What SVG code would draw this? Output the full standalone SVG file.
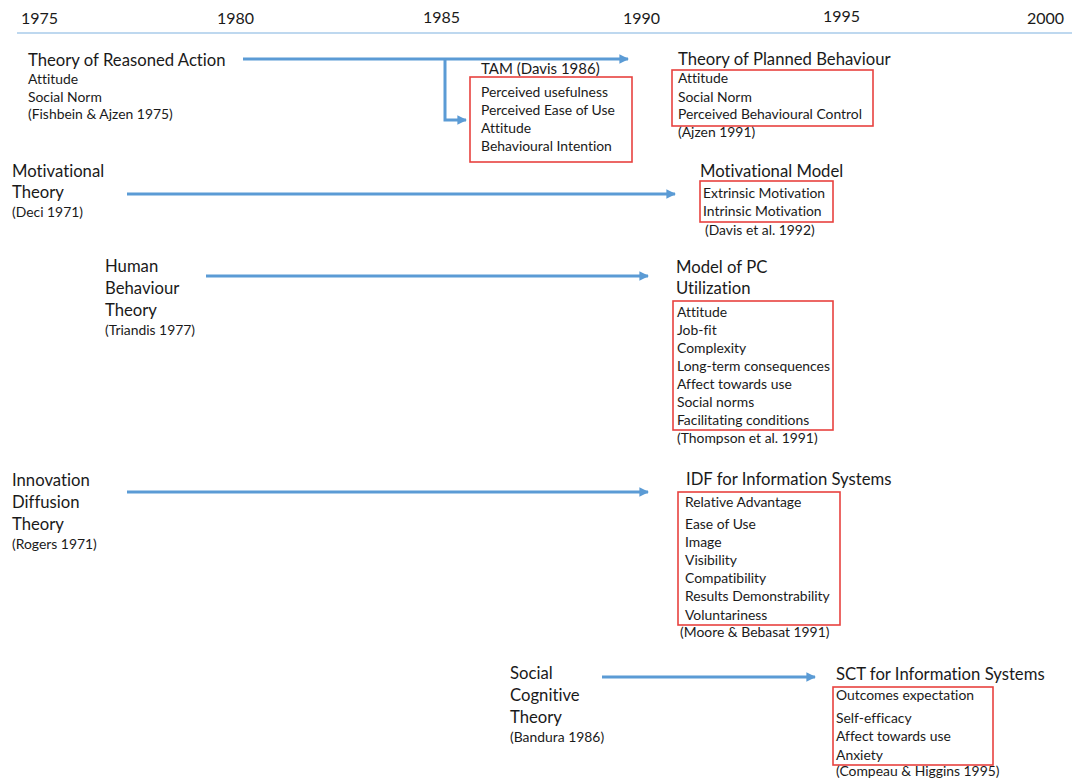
<svg xmlns="http://www.w3.org/2000/svg" width="1072" height="779" viewBox="0 0 1072 779">
  <style>
    text { font-family: Lato, "Liberation Sans", sans-serif; fill: #1a1a1a; font-variant-ligatures: none; font-feature-settings: "liga" 0, "clig" 0; }
    .year { font-size: 16px; }
    .title { font-size: 16.7px; }
    .item { font-size: 13.9px; }
    .box { fill: none; stroke: #e8423f; stroke-width: 1.6; }
    .axis { stroke: #a8cbea; stroke-width: 1.5; }
    .flow { fill: none; stroke: #5b9bd5; stroke-width: 3; }
  </style>
  <defs>
    <marker id="head" viewBox="0 0 10 10" refX="9" refY="5" markerWidth="3.6" markerHeight="3.2" orient="auto" markerUnits="strokeWidth">
      <path d="M0,0 L10,5 L0,10 Z" fill="#5b9bd5"/>
    </marker>
  </defs>

  <rect width="1072" height="779" fill="#ffffff"/>

  <!-- timeline axis -->
  <g id="timeline">
    <line class="axis" x1="17" y1="33" x2="1072" y2="33"/>
    <text class="year" x="21" y="24">1975</text>
    <text class="year" x="217" y="24">1980</text>
    <text class="year" x="423" y="23">1985</text>
    <text class="year" x="623" y="24">1990</text>
    <text class="year" x="823" y="22">1995</text>
    <text class="year" x="1027" y="24">2000</text>
  </g>

  <!-- connectors -->
  <g id="connectors">
    <path class="flow" d="M243,59 H628" marker-end="url(#head)"/>
    <path class="flow" d="M445,59 V120 H466" marker-end="url(#head)"/>
    <path class="flow" d="M127,194 H675" marker-end="url(#head)"/>
    <path class="flow" d="M206,276 H648" marker-end="url(#head)"/>
    <path class="flow" d="M127,492 H648" marker-end="url(#head)"/>
    <path class="flow" d="M602,677 H815" marker-end="url(#head)"/>
  </g>

  <!-- source theories -->
  <g id="tra">
    <text class="title" x="28" y="66">Theory of Reasoned Action</text>
    <text class="item" x="28"><tspan x="28" y="84">Attitude</tspan><tspan x="28" y="102">Social Norm</tspan><tspan x="28" y="119">(Fishbein &amp; Ajzen 1975)</tspan></text>
  </g>
  <g id="motivational-theory">
    <text class="title"><tspan x="12" y="177">Motivational</tspan><tspan x="12" y="198">Theory</tspan></text>
    <text class="item" x="12" y="217">(Deci 1971)</text>
  </g>
  <g id="human-behaviour-theory">
    <text class="title"><tspan x="105" y="272">Human</tspan><tspan x="105" y="294">Behaviour</tspan><tspan x="105" y="316">Theory</tspan></text>
    <text class="item" x="105" y="335">(Triandis 1977)</text>
  </g>
  <g id="innovation-diffusion-theory">
    <text class="title"><tspan x="12" y="486">Innovation</tspan><tspan x="12" y="508">Diffusion</tspan><tspan x="12" y="530">Theory</tspan></text>
    <text class="item" x="12" y="549">(Rogers 1971)</text>
  </g>
  <g id="social-cognitive-theory">
    <text class="title"><tspan x="510" y="679">Social</tspan><tspan x="510" y="701">Cognitive</tspan><tspan x="510" y="723">Theory</tspan></text>
    <text class="item" x="510" y="742">(Bandura 1986)</text>
  </g>

  <!-- derived models -->
  <g id="tam">
    <text class="item" x="481" y="74" style="font-size:15px">TAM (Davis 1986)</text>
    <rect class="box" x="470" y="77" width="162" height="85"/>
    <text class="item"><tspan x="481" y="97">Perceived usefulness</tspan><tspan x="481" y="115">Perceived Ease of Use</tspan><tspan x="481" y="133">Attitude</tspan><tspan x="481" y="151">Behavioural Intention</tspan></text>
  </g>
  <g id="tpb">
    <text class="title" x="678" y="65">Theory of Planned Behaviour</text>
    <rect class="box" x="672" y="70" width="201" height="56"/>
    <text class="item"><tspan x="678" y="83">Attitude</tspan><tspan x="678" y="102">Social Norm</tspan><tspan x="678" y="119">Perceived Behavioural Control</tspan><tspan x="678" y="137">(Ajzen 1991)</tspan></text>
  </g>
  <g id="motivational-model">
    <text class="title" x="700" y="177">Motivational Model</text>
    <rect class="box" x="700" y="181" width="133" height="41"/>
    <text class="item"><tspan x="703" y="198">Extrinsic Motivation</tspan><tspan x="703" y="216">Intrinsic Motivation</tspan><tspan x="705" y="235">(Davis et al. 1992)</tspan></text>
  </g>
  <g id="pc-utilization">
    <text class="title"><tspan x="676" y="273">Model of PC</tspan><tspan x="676" y="294">Utilization</tspan></text>
    <rect class="box" x="673" y="301" width="160" height="129"/>
    <text class="item"><tspan x="677" y="317">Attitude</tspan><tspan x="677" y="335">Job-fit</tspan><tspan x="677" y="353">Complexity</tspan><tspan x="677" y="371">Long-term consequences</tspan><tspan x="677" y="389">Affect towards use</tspan><tspan x="677" y="407">Social norms</tspan><tspan x="677" y="425">Facilitating conditions</tspan><tspan x="677" y="443">(Thompson et al. 1991)</tspan></text>
  </g>
  <g id="idf-is">
    <text class="title" x="686" y="485">IDF for Information Systems</text>
    <rect class="box" x="678" y="492" width="162" height="133"/>
    <text class="item"><tspan x="685" y="507">Relative Advantage</tspan><tspan x="685" y="529">Ease of Use</tspan><tspan x="685" y="547">Image</tspan><tspan x="685" y="565">Visibility</tspan><tspan x="685" y="583">Compatibility</tspan><tspan x="685" y="601">Results Demonstrability</tspan><tspan x="685" y="620">Voluntariness</tspan><tspan x="680" y="637">(Moore &amp; Bebasat 1991)</tspan></text>
  </g>
  <g id="sct-is">
    <text class="title" x="836" y="680">SCT for Information Systems</text>
    <rect class="box" x="833" y="687" width="160" height="78"/>
    <text class="item"><tspan x="836" y="700">Outcomes expectation</tspan><tspan x="836" y="723">Self-efficacy</tspan><tspan x="836" y="741">Affect towards use</tspan><tspan x="836" y="760">Anxiety</tspan><tspan x="836" y="776">(Compeau &amp; Higgins 1995)</tspan></text>
  </g>
</svg>
